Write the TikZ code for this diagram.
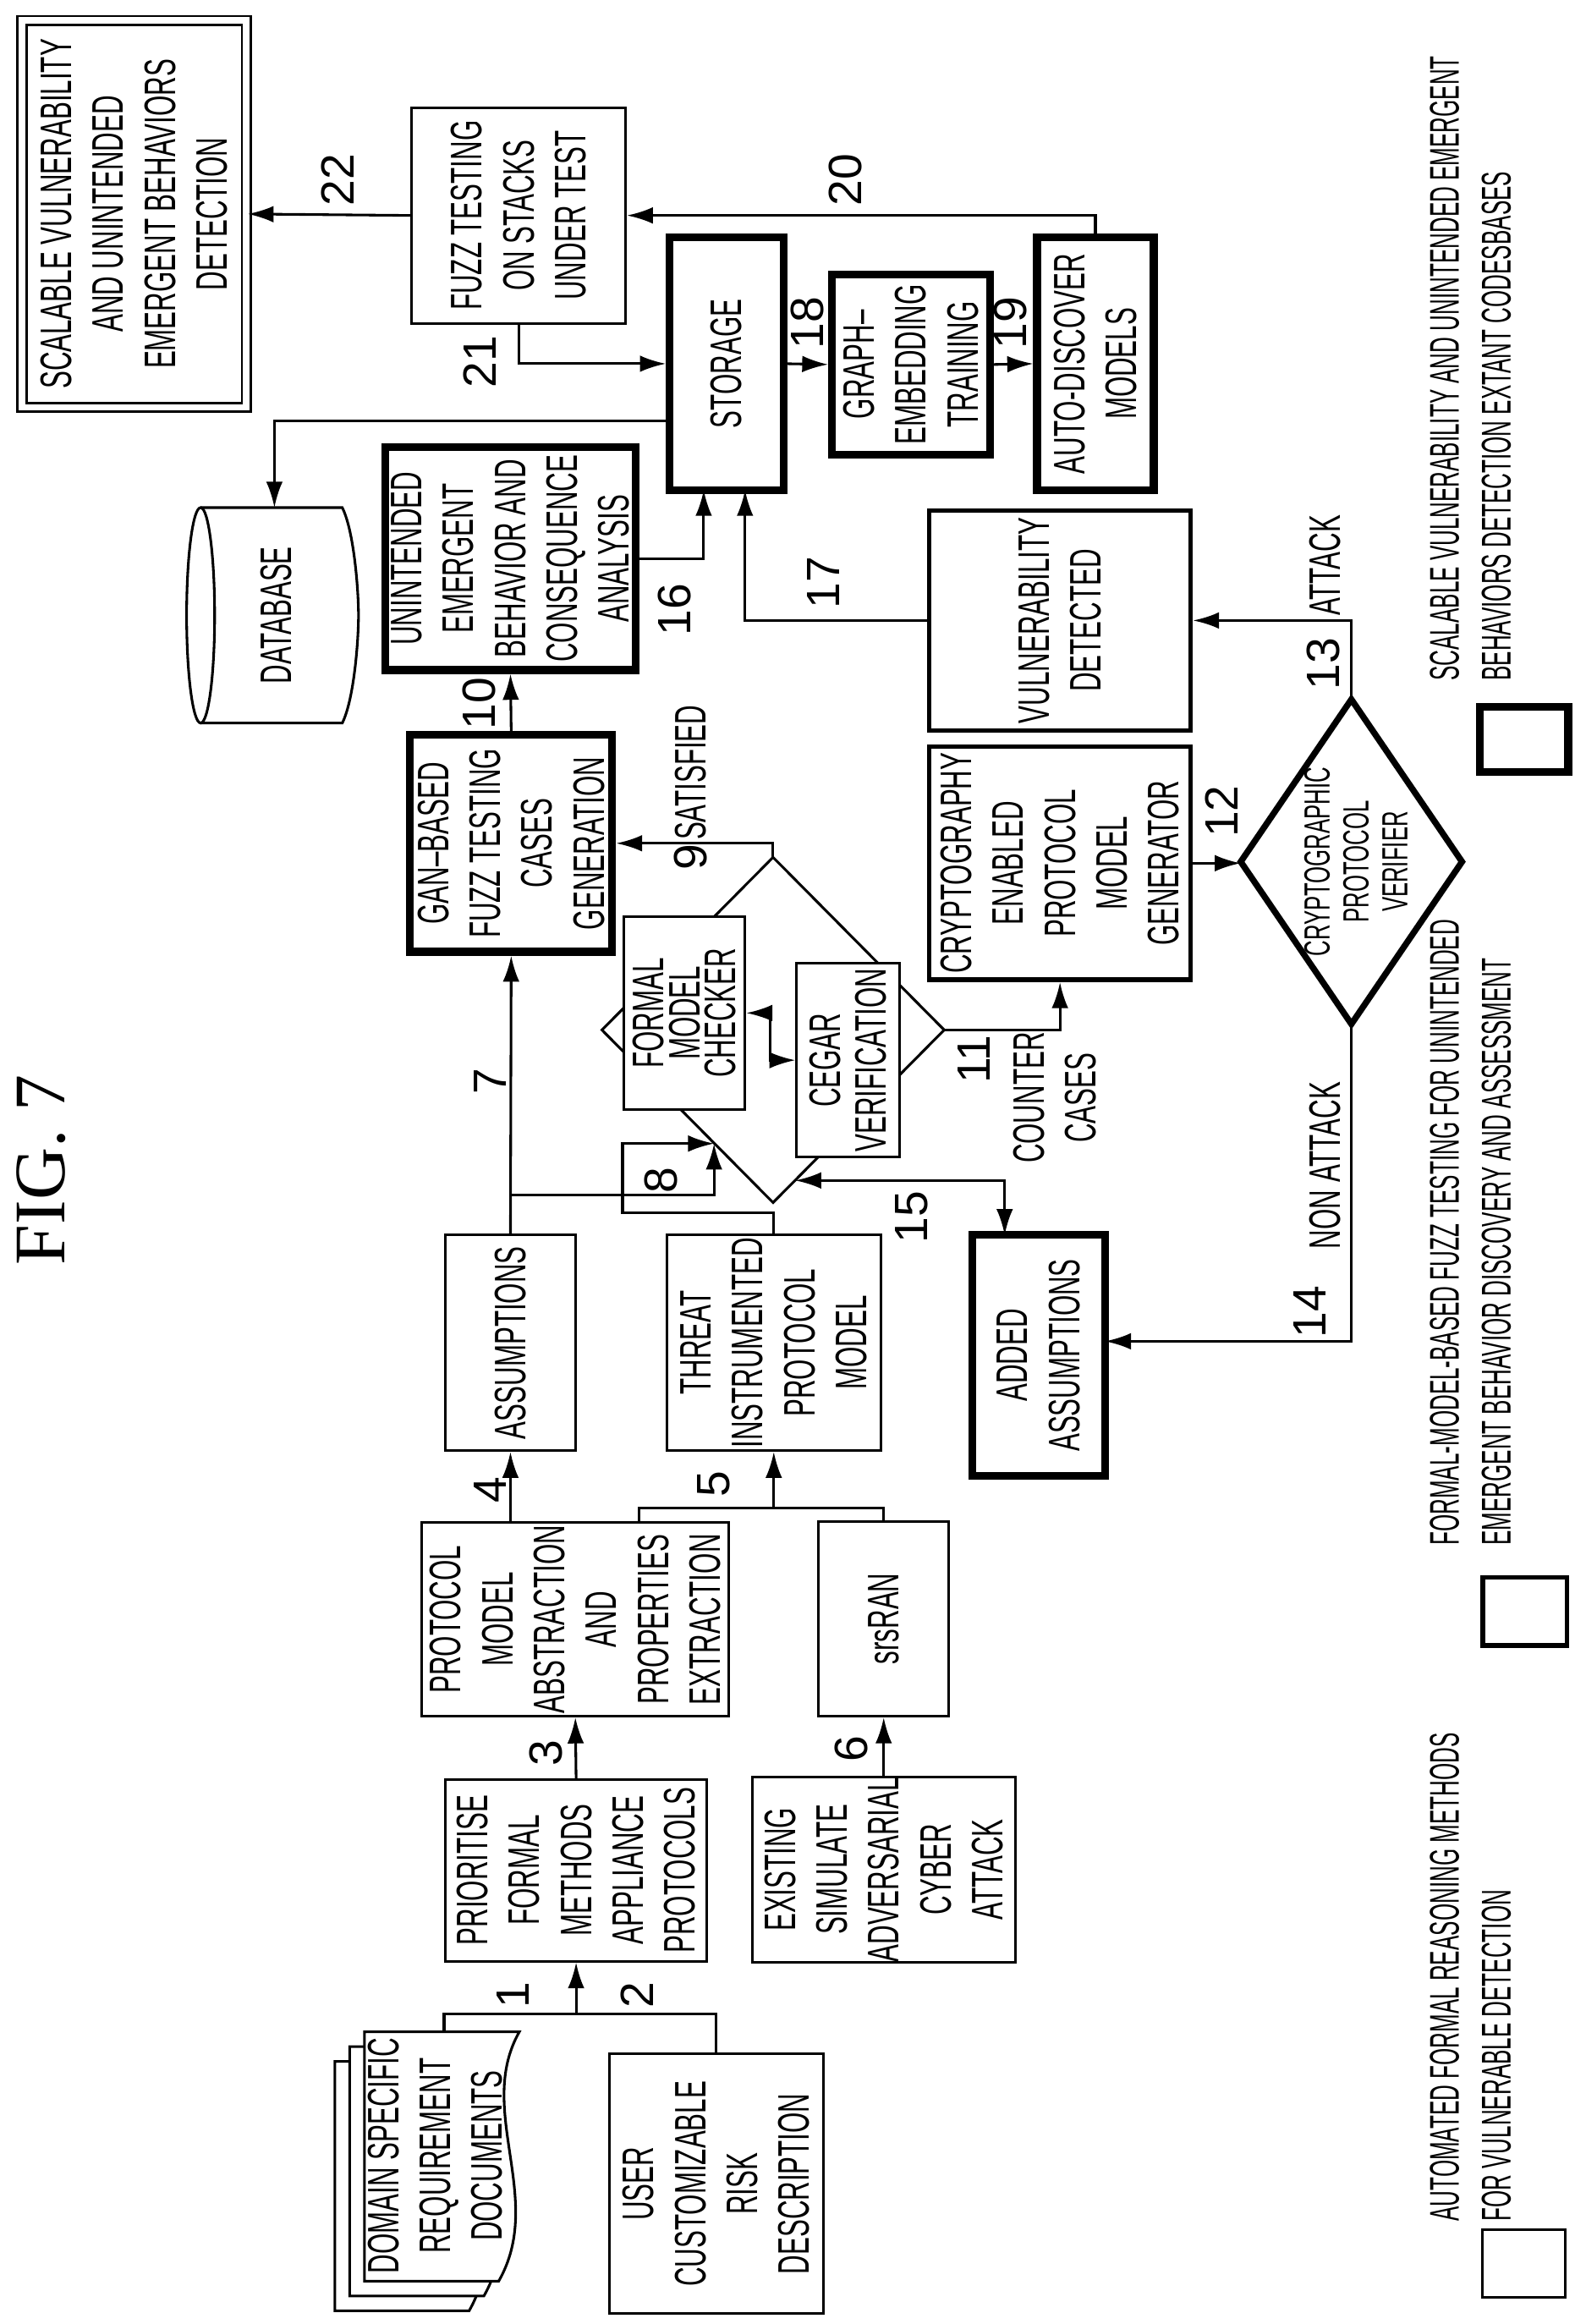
\documentclass[tikz,border=0pt]{standalone}
\usepackage{fontspec}
\setmainfont{Liberation Sans}[FakeStretch=0.6]
\newfontfamily\lblfont{Liberation Sans}
\newfontfamily\legfont{Liberation Sans}[FakeStretch=0.53]
\newfontfamily\figfont{Liberation Serif}
\usetikzlibrary{arrows.meta}
\begin{document}
\begin{tikzpicture}[x=0.01cm,y=-0.01cm,
 every node/.style={inner sep=0pt, align=center, font=\fontsize{8.5}{10}\selectfont, rotate=90},
 box/.style={draw, line width=0.5pt, fill=white},
 mbox/.style={draw, line width=0.9pt, fill=white},
 tbox/.style={draw, line width=1.5pt, fill=white},
 ln/.style={line width=0.5pt},
 tip/.tip={Latex[length=5pt,width=3.2pt]},
 arr/.style={ln, -tip},
 lbl/.style={font=\lblfont\fontsize{9}{10}\selectfont},
 leg/.style={align=left, anchor=base west, font=\legfont\fontsize{8}{10}\selectfont}]
\useasboundingbox (0,0) rectangle (1075,1575);

% title
\node[font=\figfont\fontsize{14}{14}\selectfont] (fig) at (28,793) {FIG. 7};

% top row
\node[draw, double, double distance=0.045cm, line width=0.45pt, minimum width=2.62cm, minimum height=1.52cm] (scal) at (91,145) {SCALABLE VULNERABILITY\\AND UNINTENDED\\EMERGENT BEHAVIORS\\DETECTION};
\node[box, minimum width=1.46cm, minimum height=1.45cm] (fuzz) at (351.5,146) {FUZZ TESTING\\ON STACKS\\UNDER TEST};
\node[tbox, minimum width=1.71cm, minimum height=0.77cm] (storage) at (492.5,246.5) {STORAGE};
\node[tbox, minimum width=1.22cm, minimum height=1.07cm] (graph) at (617.5,247) {GRAPH--\\EMBEDDING\\TRAINING};
\node[tbox, minimum width=1.71cm, minimum height=0.79cm] (auto) at (742.5,246.5) {AUTO-DISCOVER\\MODELS};

% database
\draw[ln] (136,344) -- (232,344) .. controls (240,360) and (243,400) .. (243,417) .. controls (243,434) and (240,474) .. (232,490) -- (136,490);
\draw[ln] (136,417) ellipse [x radius=9.5, y radius=73];
\node[minimum width=1.46cm, minimum height=1.1cm] (db) at (187,417) {DATABASE};

\node[tbox, minimum width=1.51cm, minimum height=1.7cm] (unint) at (346,378.5) {UNINTENDED\\EMERGENT\\BEHAVIOR AND\\CONSEQUENCE\\ANALYSIS};
\node[mbox, minimum width=1.49cm, minimum height=1.77cm] (vuln) at (718.5,420.5) {VULNERABILITY\\DETECTED};
\node[tbox, minimum width=1.47cm, minimum height=1.37cm] (gan) at (346.5,571.5) {GAN--BASED\\FUZZ TESTING\\CASES\\GENERATION};
\node[mbox, minimum width=1.58cm, minimum height=1.77cm] (crypto) at (718.5,585) {CRYPTOGRAPHY\\ENABLED\\PROTOCOL\\MODEL\\GENERATOR};

% model checking diamond
\coordinate (d1) at (524,698);
\draw[ln] (524,581) -- (640,698) -- (524,815) -- (408,698) -- cycle;
\node[box, minimum width=1.31cm, minimum height=0.82cm, font=\fontsize{8.5}{6.9}\selectfont] (formal) at (464,686.5) {FORMAL\\MODEL\\CHECKER};
\node[box, minimum width=1.31cm, minimum height=0.70cm, font=\fontsize{8.5}{8.8}\selectfont] (cegar) at (575,718.5) {CEGAR\\VERIFICATION};

% verifier diamond
\draw[line width=1.2pt] (916,474) -- (991,584) -- (916,694) -- (841,584) -- cycle;
\node[font=\fontsize{7}{7.5}\selectfont] (verif) at (919,584) {CRYPTOGRAPHIC\\PROTOCOL\\VERIFIER};

\node[box, minimum width=1.46cm, minimum height=0.88cm] (assum) at (346,910) {ASSUMPTIONS};
\node[box, minimum width=1.46cm, minimum height=1.45cm] (threat) at (524.5,910) {THREAT\\INSTRUMENTED\\PROTOCOL\\MODEL};
\node[tbox, minimum width=1.63cm, minimum height=0.90cm] (added) at (704,918.5) {ADDED\\ASSUMPTIONS};
\node[box, minimum width=1.31cm, minimum height=2.08cm] (prot) at (390,1097.5) {PROTOCOL\\MODEL\\ABSTRACTION\\AND\\PROPERTIES\\EXTRACTION};
\node[box, minimum width=1.32cm, minimum height=0.88cm] (srs) at (599,1097) {srsRAN};
\node[box, minimum width=1.23cm, minimum height=1.77cm] (prio) at (390.5,1267.5) {PRIORITISE\\FORMAL\\METHODS\\APPLIANCE\\PROTOCOLS};
\node[box, minimum width=1.24cm, minimum height=1.78cm] (exist) at (599,1267) {EXISTING\\SIMULATE\\ADVERSARIAL\\CYBER\\ATTACK};

% documents
\foreach \d in {20,10,0}
  \draw[ln, fill=white] ({247-\d},{1377+\d}) -- ({352-\d},{1377+\d}) .. controls ({322-\d},{1430+\d}) and ({370-\d},{1490+\d}) .. ({338-\d},{1546+\d}) -- ({247-\d},{1546+\d}) -- cycle;
\node[minimum width=1.69cm, minimum height=1.05cm] (doc) at (295,1461) {DOMAIN SPECIFIC\\REQUIREMENT\\DOCUMENTS};
\node[box, minimum width=1.76cm, minimum height=1.45cm] (user) at (485.5,1480) {USER\\CUSTOMIZABLE\\RISK\\DESCRIPTION};

% connectors
\coordinate (j1) at (390.5,1365);
\draw[ln] (301,1377) -- (301,1365) -- (485.5,1365) -- (user.east);
\draw[arr] (j1) -- (prio.west);
\draw[arr] (prio.east) -- (prot.west);
\draw[arr] (prot.east -| assum) -- (assum.west);
\coordinate (j5) at (524.5,1022);
\draw[ln] (433,1032) -- (433,1022) -- (599,1022) -- (srs.east);
\draw[arr] (j5) -- (threat.west);
\draw[arr] (exist.east) -- (srs.west);
\draw[arr] (assum.east) -- (gan.west);
\coordinate (e8) at (484,775);
\draw[arr] (346,810) -- (484,810) -- (e8);
\draw[arr] (threat.east) -- (524.5,822) -- (422,822) -- (422,775) -- (e8);
\draw[arr] (524,581) -- (524,571.5) -- (gan.south);
\draw[ln, tip-tip] (formal.south) -- (522,686.5) -- (522,718.5) -- (cegar.north);
\draw[arr] (gan.east) -- (unint.west);
\draw[arr] (640,698) -- (718.5,698) -- (crypto.west);
\draw[arr] (crypto.south) -- (841,585);
\draw[arr] (916,474) -- (916,420.5) -- (vuln.south);
\draw[arr] (916,694) -- (916,909) -- (749,909);
\draw[ln, tip-tip] (539,800) -- (681,800) -- (681,837);
\draw[arr] (unint.south) -- (477,378.5) -- (477,332);
\draw[arr] (vuln.north) -- (505,420.5) -- (505,332);
\draw[arr] (storage.south) -- (graph.north);
\draw[arr] (graph.south) -- (auto.north);
\draw[arr] (auto.east) -- (742.5,146) -- (fuzz.south);
\draw[arr] (fuzz.west) -- (351.5,246.5) -- (storage.north);
\draw[arr] (fuzz.north) -- (scal.south);
\coordinate (dbtop) at (186,344);
\draw[arr] (storage.north |- 0,285) -- (186,285) -- (dbtop);

% labels
\foreach \t/\x/\y in {1/348/1352,2/432/1352,3/370/1188,4/332/1010,5/484/1006,6/577/1185,7/332/733,8/448/800,9/468/581,10/325/477,11/660/718,12/828/550,13/897/450,14/888/889,15/618/825,16/457/413,17/558/395,18/547/219,19/685/219,20/573/122,21/325/245,22/229/122}
  \node[lbl] at (\x,\y) {\t};
\node[anchor=west] (sat) at (468,570) {SATISFIED};
\node[anchor=west] (att) at (898,418) {ATTACK};
\node[anchor=west] (natt) at (898,847) {NON ATTACK};
\node (cc) at (715,744) {COUNTER\\CASES};

% legend
\node[box, minimum width=0.46cm, minimum height=0.56cm] (l1) at (1033,1534) {};
\node[mbox, minimum width=0.46cm, minimum height=0.57cm] (l2) at (1033.5,1092) {};
\node[tbox, minimum width=0.44cm, minimum height=0.60cm] (l3) at (1033,501) {};
\node[leg] (t1) at (1024,1506) {AUTOMATED FORMAL REASONING METHODS\\FOR VULNERABLE DETECTION};
\node[leg] (t2) at (1024,1048) {FORMAL-MODEL-BASED FUZZ TESTING FOR UNINTENDED\\EMERGENT BEHAVIOR DISCOVERY AND ASSESSMENT};
\node[leg] (t3) at (1024,462) {SCALABLE VULNERABILITY AND UNINTENDED EMERGENT\\BEHAVIORS DETECTION EXTANT CODESBASES};
\end{tikzpicture}
\end{document}
